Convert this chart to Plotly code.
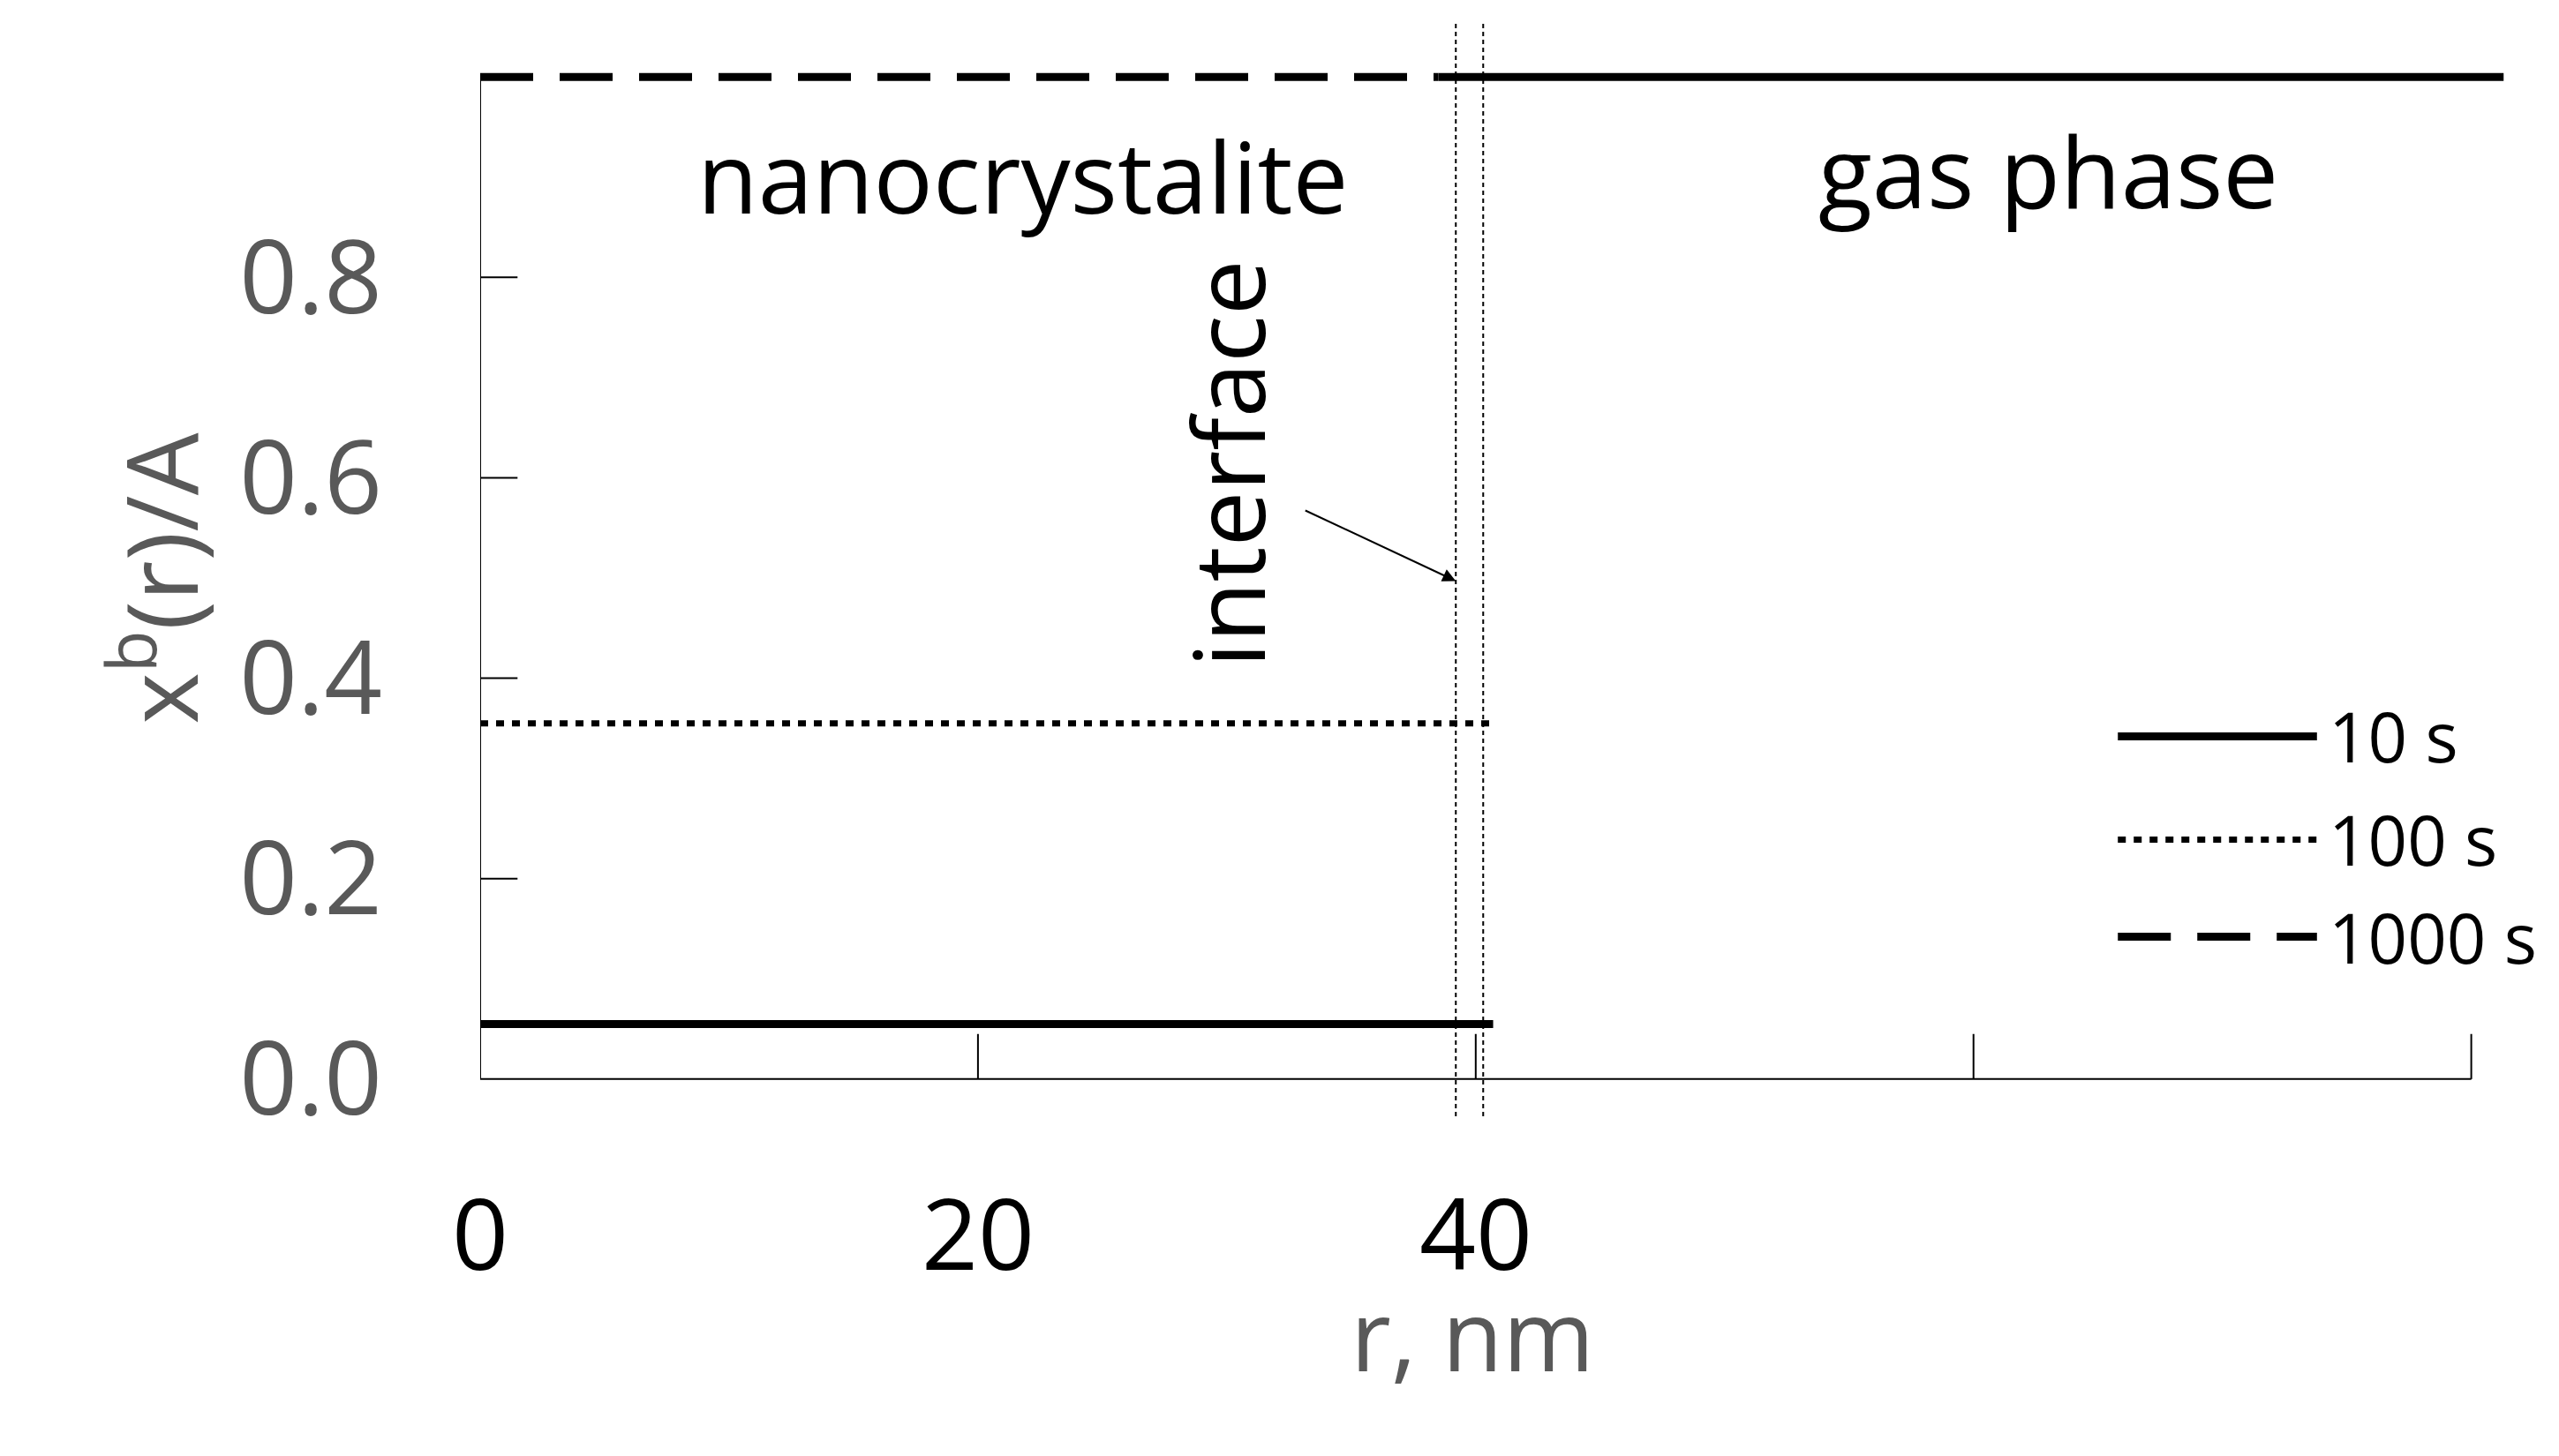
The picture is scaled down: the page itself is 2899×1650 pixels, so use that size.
import plotly.graph_objects as go

# series (r in nm, x^b(r)/A); 10 s has a bulk part and a gas-phase part
r_10s = [0, 40.7, None, 38.5, 81.3]
x_10s = [0.055, 0.055, None, 1.0, 1.0]
r_100s = [0, 40.6]
x_100s = [0.355, 0.355]
r_1000s = [0, 38.5]
x_1000s = [1.0, 1.0]
interface_r = [39.2, 40.3]

x_ticklabels = [0, 20, 40]
x_tickmarks = [20, 40, 60, 80]
y_ticks = [0.0, 0.2, 0.4, 0.6, 0.8, 1.0]

legend_names = ["10 s", "100 s", "1000 s"]
legend_y = [0.342, 0.239, 0.142]
legend_dash = ["solid", "9px,9px", "60px,30px"]

gray = "#595959"
font = "Open Sans, DejaVu Sans, sans-serif"

fig = go.Figure()
fig.add_trace(go.Scatter(x=r_10s, y=x_10s, mode="lines",
                         line=dict(color="black", width=9)))
fig.add_trace(go.Scatter(x=r_100s, y=x_100s, mode="lines",
                         line=dict(color="black", width=7, dash="9px,9px")))
fig.add_trace(go.Scatter(x=r_1000s, y=x_1000s, mode="lines",
                         line=dict(color="black", width=9, dash="60px,30px")))
for xv in interface_r:
    fig.add_trace(go.Scatter(x=[xv, xv], y=[-0.037, 1.054], mode="lines",
                             line=dict(color="black", width=2, dash="5px,4px")))

# legend drawn by hand
for name, yv, dash in zip(legend_names, legend_y, legend_dash):
    fig.add_trace(go.Scatter(x=[65.8, 73.8], y=[yv, yv], mode="lines",
                             line=dict(color="black", width=7 if "9px" in dash else 9, dash=dash)))
    fig.add_annotation(x=74.2, y=yv, text=name, showarrow=False, xanchor="left",
                       font=dict(size=78, color="black", family=font))

shapes = [
    dict(type="line", x0=0, x1=0, y0=0, y1=1.0, line=dict(color="black", width=2)),
    dict(type="line", x0=0, x1=80, y0=0, y1=0, line=dict(color="black", width=2)),
]
for t in x_tickmarks:
    shapes.append(dict(type="line", x0=t, x1=t, y0=0, y1=0.045, line=dict(color="black", width=2)))
for t in y_ticks[1:]:
    shapes.append(dict(type="line", x0=0, x1=1.5, y0=t, y1=t, line=dict(color="black", width=2)))

fig.add_annotation(x=21.8, y=0.902, text="nanocrystalite", showarrow=False,
                   font=dict(size=112, color="black", family=font))
fig.add_annotation(x=63, y=0.907, text="gas phase", showarrow=False,
                   font=dict(size=112, color="black", family=font))
fig.add_annotation(x=30.0, y=0.614, text="interface", showarrow=False, textangle=-90,
                   font=dict(size=112, color="black", family=font))
fig.add_annotation(x=39.2, y=0.497, ax=33.1, ay=0.568, axref="x", ayref="y",
                   text="", showarrow=True, arrowhead=2, arrowsize=1.5, arrowwidth=2,
                   arrowcolor="black")
for t in x_ticklabels:
    fig.add_annotation(x=t, y=-0.082, yref="paper", text=str(t), showarrow=False,
                       yanchor="middle", font=dict(size=112, color="black", family=font))
fig.add_annotation(x=0.486, y=-0.234, xref="paper", yref="paper", text="r, nm",
                   showarrow=False, font=dict(size=112, color=gray, family=font))
fig.add_annotation(x=-0.196, y=0.5, xref="paper", text="x<sup>b</sup>(r)/A",
                   textangle=-90, showarrow=False, font=dict(size=112, color=gray, family=font))

fig.update_layout(
    width=2899, height=1650, showlegend=False,
    plot_bgcolor="white", paper_bgcolor="white",
    margin=dict(l=536, r=51, t=11, b=367),
    shapes=shapes,
    xaxis=dict(range=[0, 82], showgrid=False, zeroline=False, showline=False,
               showticklabels=False, ticks=""),
    yaxis=dict(range=[-0.06, 1.06], showgrid=False, zeroline=False, showline=False,
               tickvals=y_ticks, ticktext=[f"{v:.1f}" for v in y_ticks],
               tickfont=dict(size=115, color=gray, family=font),
               ticks="", ticklabelstandoff=110),
)

fig.write_html("out.html")
